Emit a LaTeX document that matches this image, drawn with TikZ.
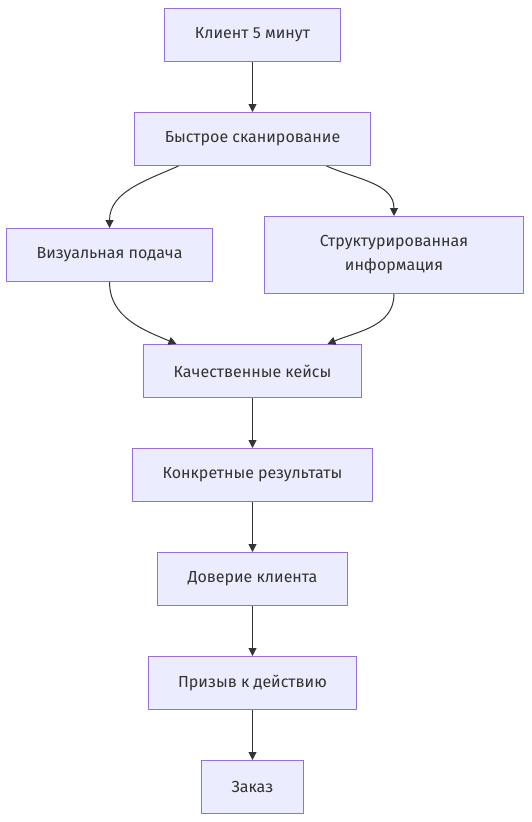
\documentclass[tikz,border=0pt]{standalone}
\usepackage{fontspec}
\setmainfont{Fira Sans}
\usetikzlibrary{arrows.meta,positioning}
\definecolor{boxfill}{HTML}{ECECFF}
\definecolor{boxline}{HTML}{9370DB}
\definecolor{ink}{HTML}{333333}
\tikzset{
    block/.style={rectangle,draw=boxline,fill=boxfill,line width=1pt,text=ink,
        font=\fontsize{16}{24}\selectfont,inner xsep=30pt,inner ysep=15pt,
        minimum height=53pt,align=center},
    flow/.style={-{Triangle[length=8pt,width=8pt]},line width=1pt,draw=ink}
}

\begin{document}
\begin{tikzpicture}[x=1pt,y=1pt,node distance=50pt]

                \useasboundingbox (0,0) rectangle (532,-822);

                \node[block] (client)  at (252.5,-35)                        {Клиент 5 минут};
                \node[block] (scan)    [below=of client]                      {Быстрое сканирование};
                \node[block,minimum height=77pt,minimum width=259pt] (struct) [below=of scan, xshift=141.5pt]
                                                                              {Структурированная\\информация};
                \node[block] (visual)  [left=51pt of struct]                  {Визуальная подача};

                \coordinate (join) at (scan |- struct.south);
                \node[block] (cases)   [below=of join]                        {Качественные кейсы};
                \node[block] (results) [below=of cases]                       {Конкретные результаты};
                \node[block] (trust)   [below=of results]                     {Доверие клиента};
                \node[block] (call)    [below=of trust]                       {Призыв к действию};
                \node[block] (order)   [below=of call]                        {Заказ};

                \draw[flow] (client) -- (scan);
                \draw[flow] ([xshift=-74pt]scan.south) to[out=204,in=90] (visual);
                \draw[flow] ([xshift=74pt]scan.south)  to[out=-24,in=90] (struct);
                \draw[flow] (visual) to[out=-90,in=157] ([xshift=-76pt]cases.north);
                \draw[flow] (struct) to[out=-90,in=23]  ([xshift=75pt]cases.north);
                \draw[flow] (cases)   -- (results);
                \draw[flow] (results) -- (trust);
                \draw[flow] (trust)   -- (call);
                \draw[flow] (call)    -- (order);

            \end{tikzpicture}
\end{document}
